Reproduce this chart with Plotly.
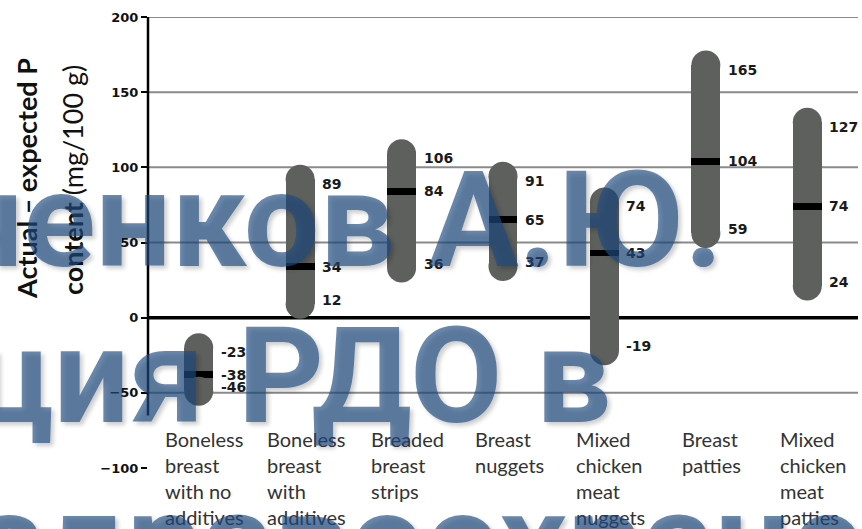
import plotly.graph_objects as go

# Product categories (one list of label lines per category)
categories = [
    ["Boneless", "breast", "with no", "additives"],
    ["Boneless", "breast", "with", "additives"],
    ["Breaded", "breast", "strips"],
    ["Breast", "nuggets"],
    ["Mixed", "chicken", "meat", "nuggets"],
    ["Breast", "patties"],
    ["Mixed", "chicken", "meat", "patties"],
]

# Actual - expected P content (mg/100 g): low, median and high values
low = [-46, 12, 36, 37, -19, 59, 24]
median = [-38, 34, 84, 65, 43, 104, 74]
high = [-23, 89, 106, 91, 74, 165, 127]

y_ticks = [-100, -50, 0, 50, 100, 150, 200]
grid_values = [-50, 50, 100, 150, 200]

# Styling constants
BAR_COLOR = "#5e605e"
BAR_WIDTH = 0.285
CAP_PX = 29
CAP_PAD = 3          # small extension (data units) before the rounded ends
MEDIAN_THICK = 4.6   # thickness of the median mark, data units
L, R, T, B = 148, 4, 17, 61
W, H = 862, 529
PW, PH = W - L - R, H - T - B


def px_to_paper_x(px):
    return (px - L) / PW


def px_to_paper_y(py):
    return (H - B - py) / PH


x = list(range(len(categories)))

fig = go.Figure()

# Range bars
fig.add_trace(go.Bar(
    x=x,
    base=[lo - CAP_PAD for lo in low],
    y=[hi - lo + 2 * CAP_PAD for hi, lo in zip(high, low)],
    width=BAR_WIDTH,
    marker=dict(color=BAR_COLOR, line=dict(width=0)),
    hoverinfo="skip",
))

# Rounded ends of the bars
fig.add_trace(go.Scatter(
    x=x + x,
    y=[lo - CAP_PAD for lo in low] + [hi + CAP_PAD for hi in high],
    mode="markers",
    marker=dict(symbol="circle", size=CAP_PX, color=BAR_COLOR, line=dict(width=0)),
    hoverinfo="skip",
))

# Median marks
fig.add_trace(go.Bar(
    x=x,
    base=[m - MEDIAN_THICK / 2 for m in median],
    y=[MEDIAN_THICK] * len(median),
    width=BAR_WIDTH,
    marker=dict(color="black", line=dict(width=0)),
    hoverinfo="skip",
))

shapes = []
for g in grid_values:
    shapes.append(dict(type="line", xref="x domain", yref="y", x0=0, x1=1, y0=g, y1=g,
                       line=dict(color="#8a8a8a", width=2), layer="below"))
# zero line
shapes.append(dict(type="line", xref="x domain", yref="y", x0=0, x1=1, y0=0, y1=0,
                   line=dict(color="black", width=3.5), layer="below"))
# vertical axis line
shapes.append(dict(type="line", xref="x domain", yref="y", x0=0, x1=0, y0=-65, y1=200,
                   line=dict(color="black", width=2.5), layer="above"))

annotations = []
value_font = dict(family="DejaVu Sans", size=14, color="#1a1a1a", weight="bold")
for i in x:
    for v in (high[i], median[i], low[i]):
        annotations.append(dict(x=i, y=v, xref="x", yref="y", text=str(v),
                                xanchor="left", yanchor="middle", xshift=20,
                                showarrow=False, font=value_font))

# Category labels under the chart
for i, lines in enumerate(categories):
    annotations.append(dict(x=i, y=-71.5, xref="x", yref="y", text="<br>".join(lines),
                            xanchor="center", yanchor="top", align="left", xshift=6,
                            showarrow=False,
                            font=dict(family="Lato", size=20, color="#333333")))

# Y-axis title (two lines)
annotations.append(dict(x=px_to_paper_x(26), y=px_to_paper_y(179), xref="paper", yref="paper",
                        text="<b>Actual – expected P</b>", textangle=-90,
                        xanchor="center", yanchor="middle", showarrow=False,
                        font=dict(family="Lato", size=27, color="#111111")))
annotations.append(dict(x=px_to_paper_x(72), y=px_to_paper_y(180), xref="paper", yref="paper",
                        text="<b>content</b> (mg/100 g)", textangle=-90,
                        xanchor="center", yanchor="middle", showarrow=False,
                        font=dict(family="Lato", size=27, color="#111111")))

# Watermark
wm_font = dict(family="Roboto", size=134,
               color="rgba(30,75,130,0.66)", weight="bold",
               shadow="3px 3px 4px rgba(0,0,0,0.3)")
annotations.append(dict(x=px_to_paper_x(725), y=px_to_paper_y(221), xref="paper", yref="paper",
                        text="ченков А.Ю.", xanchor="right", yanchor="middle",
                        showarrow=False, font=wm_font))
annotations.append(dict(x=px_to_paper_x(613), y=px_to_paper_y(376), xref="paper", yref="paper",
                        text="ция РДО в", xanchor="right", yanchor="middle",
                        showarrow=False, font=wm_font))
annotations.append(dict(x=px_to_paper_x(-28), y=px_to_paper_y(541), xref="paper", yref="paper",
                        text="здравоохранении", xanchor="left", yanchor="middle",
                        showarrow=False, font=wm_font))

fig.update_layout(
    width=W, height=H,
    margin=dict(l=L, r=R, t=T, b=B),
    paper_bgcolor="white",
    plot_bgcolor="white",
    showlegend=False,
    font=dict(family="Lato"),
    barmode="overlay",
    bargap=0,
    shapes=shapes,
    annotations=annotations,
    xaxis=dict(range=[-0.5, 6.5], showticklabels=False, showgrid=False, zeroline=False,
               showline=False, ticks="", fixedrange=True),
    yaxis=dict(range=[-100, 200], tickvals=y_ticks, ticks="outside", ticklen=6, tickwidth=2,
               tickcolor="black", showgrid=False, zeroline=False, showline=False,
               tickfont=dict(family="DejaVu Sans", size=13, color="#111111", weight="bold"),
               fixedrange=True),
)

fig.write_html("out.html")
